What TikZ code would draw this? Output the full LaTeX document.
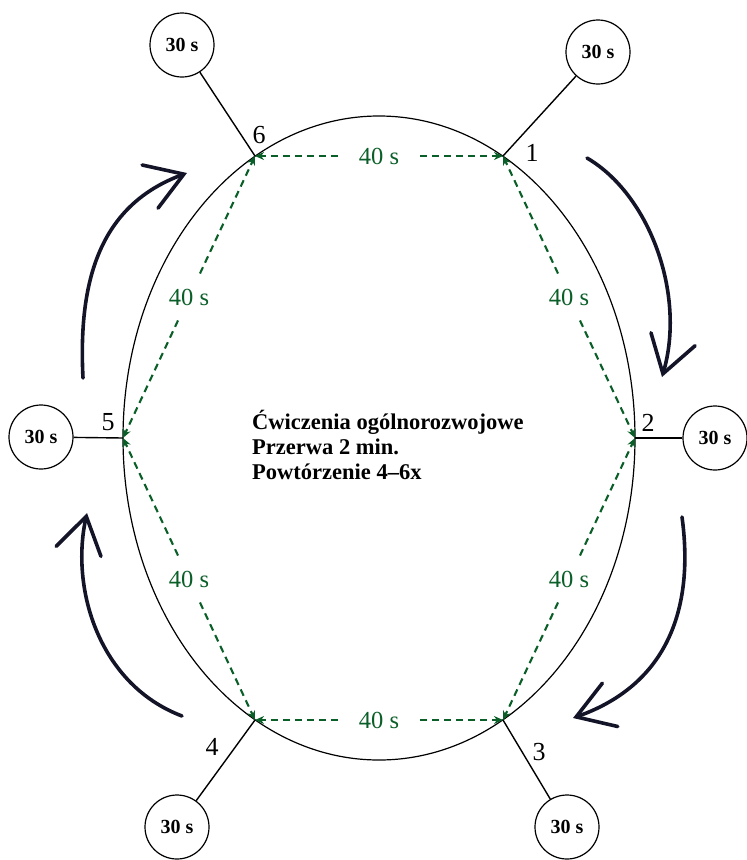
\documentclass[tikz,border=0pt]{standalone}
\usepackage{fontspec}
\setmainfont{Liberation Serif}
\usetikzlibrary{arrows.meta,calc}
\definecolor{dgreen}{RGB}{10,95,40}
\definecolor{navy}{RGB}{20,20,40}
\tikzset{
  timebox/.style={circle,draw,line width=1.2pt,minimum size=64pt,inner sep=0pt,
    font=\fontsize{20}{20}\selectfont\bfseries},
  spoke/.style={line width=1.4pt},
  numlab/.style={font=\fontsize{26}{26}\selectfont,inner sep=0pt},
  seglab/.style={text=dgreen,font=\fontsize{24.5}{24.5}\selectfont,inner xsep=21pt,inner ysep=15pt},
  dsh/.style={draw=dgreen,line width=2.1pt,dash pattern=on 7pt off 5pt,
    -{Stealth[length=9pt,width=8pt]}},
  turn/.style={draw=navy,line width=3.6pt,line cap=round,
    -{Straight Barb[length=36pt,width=46pt,line cap=round]}}
}
\begin{document}
\begin{tikzpicture}[x=1pt,y=-1pt]
\useasboundingbox (0,0) rectangle (747,860);
% ellipse
\draw[line width=1.2pt] (379,438) ellipse [x radius=256pt, y radius=322pt];
% vertices
\coordinate (v1) at (503,156);
\coordinate (v2) at (635,438);
\coordinate (v3) at (503,720);
\coordinate (v4) at (255,720);
\coordinate (v5) at (123,438);
\coordinate (v6) at (255,156);
% time circles
\node[timebox] (c6) at (182,45) {30 s};
\node[timebox] (c1) at (598,52) {30 s};
\node[timebox] (c5) at (41,437) {30 s};
\node[timebox] (c2) at (715,438) {30 s};
\node[timebox] (c4) at (177,827) {30 s};
\node[timebox] (c3) at (567,827) {30 s};
\draw[spoke] (c6) -- (v6);
\draw[spoke] (c1) -- (v1);
\draw[spoke] (c5) -- (v5);
\draw[spoke] (c2) -- (v2);
\draw[spoke] (c4) -- (v4);
\draw[spoke] (c3) -- (v3);
% numbers
\node[numlab] (n6) at (259,135) {6};
\node[numlab] (n1) at (532,153) {1};
\node[numlab] (n5) at (108,422) {5};
\node[numlab] (n2) at (648,423) {2};
\node[numlab] (n4) at (212,747) {4};
\node[numlab] (n3) at (539,752) {3};
% dashed segments
\node[seglab] (l61) at ($(v6)!0.5!(v1)$) {40 s};
\node[seglab] (l12) at ($(v1)!0.5!(v2)$) {40 s};
\node[seglab] (l23) at ($(v2)!0.5!(v3)$) {40 s};
\node[seglab] (l34) at ($(v3)!0.5!(v4)$) {40 s};
\node[seglab] (l45) at ($(v4)!0.5!(v5)$) {40 s};
\node[seglab] (l56) at ($(v5)!0.5!(v6)$) {40 s};
\draw[dsh] (l61) -- (v6); \draw[dsh] (l61) -- (v1);
\draw[dsh] (l12) -- (v1); \draw[dsh] (l12) -- (v2);
\draw[dsh] (l23) -- (v2); \draw[dsh] (l23) -- (v3);
\draw[dsh] (l34) -- (v3); \draw[dsh] (l34) -- (v4);
\draw[dsh] (l45) -- (v4); \draw[dsh] (l45) -- (v5);
\draw[dsh] (l56) -- (v5); \draw[dsh] (l56) -- (v6);
% center text
\node[anchor=west,align=left,inner sep=0pt,font=\fontsize{22.5}{25}\selectfont\bfseries] (txt) at (252,445)
  {Ćwiczenia ogólnorozwojowe\\Przerwa 2 min.\\Powtórzenie 4–6x};
% rotation arrows
\coordinate (a1s) at (587,158); \coordinate (a1e) at (662,377);
\coordinate (a2s) at (682,517); \coordinate (a2e) at (573,718);
\coordinate (a3s) at (182,716); \coordinate (a3e) at (87,513);
\coordinate (a4s) at (83,378);  \coordinate (a4e) at (187,173);
\draw[turn] (a1s) .. controls (650,195) and (686,295) .. (a1e);
\draw[turn] (a2s) .. controls (692,590) and (680,680) .. (a2e);
\draw[turn] (a3s) .. controls (100,685) and (70,590) .. (a3e);
\draw[turn] (a4s) .. controls (78,280) and (100,205) .. (a4e);
\end{tikzpicture}
\end{document}
